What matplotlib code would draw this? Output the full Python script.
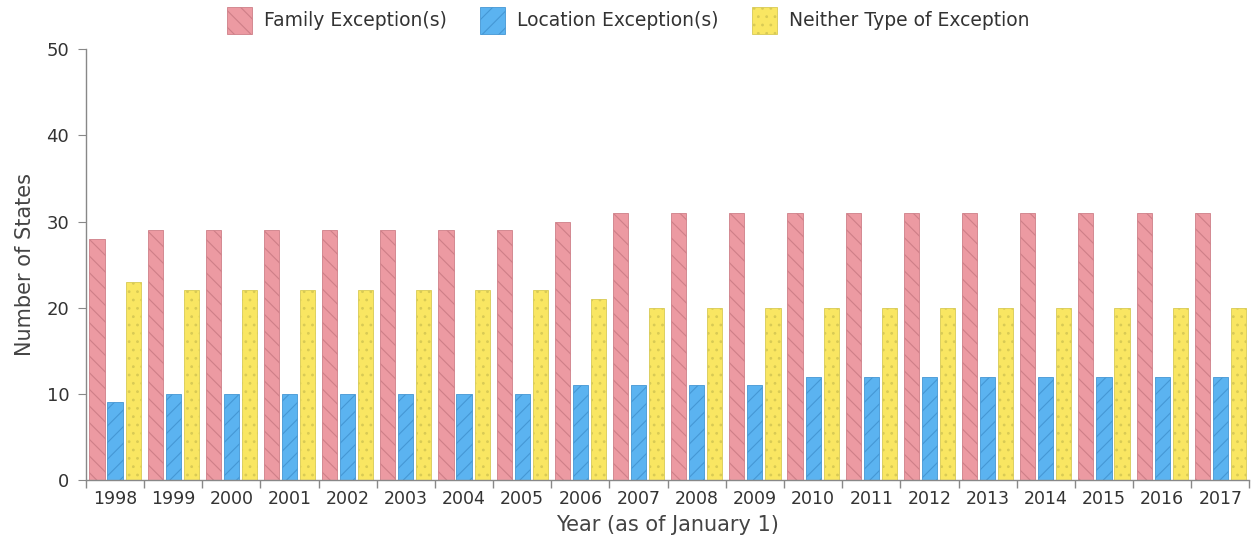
import matplotlib
matplotlib.use("Agg")
import matplotlib.pyplot as plt
import numpy as np

years = [str(y) for y in range(1998, 2018)]
family = [28, 29, 29, 29, 29, 29, 29, 29, 30, 31, 31, 31, 31, 31, 31, 31, 31, 31, 31, 31]
location = [9, 10, 10, 10, 10, 10, 10, 10, 11, 11, 11, 11, 12, 12, 12, 12, 12, 12, 12, 12]
neither = [23, 22, 22, 22, 22, 22, 22, 22, 21, 20, 20, 20, 20, 20, 20, 20, 20, 20, 20, 20]
series_names = ["Family Exception(s)", "Location Exception(s)", "Neither Type of Exception"]

plt.rcParams['font.family'] = ['DejaVu Sans']
plt.rcParams['hatch.linewidth'] = 0.8

fig = plt.figure(figsize=(12.51, 5.46), dpi=100)
ax = fig.add_axes([0.0687, 0.1209, 0.930, 0.789])

x = np.arange(len(years))
w = 0.26
off = 0.31
styles = [
    dict(color="#EC9AA2", hatch="\\\\", ec="#CE7F88"),
    dict(color="#5BB3F0", hatch="//", ec="#4597D4"),
    dict(color="#F9E662", hatch="..", ec="#D8CA55"),
]
bars = []
for i, (vals, st, name) in enumerate(zip([family, location, neither], styles, series_names)):
    b = ax.bar(x + (i - 1) * off, vals, width=w, color=st["color"], hatch=st["hatch"],
               edgecolor=st["ec"], linewidth=0.6, label=name, zorder=2)
    bars.append(b)

ax.set_xlim(-0.5, len(years) - 0.5)
ax.set_ylim(0, 50)
ax.set_yticks(range(0, 51, 10))
ax.set_xticks(x)
ax.set_xticklabels(years)
ax.set_xticks(np.arange(-0.5, len(years), 1.0), minor=True)
ax.tick_params(axis='x', which='major', length=0, labelsize=12.5, colors="#333333", pad=7)
ax.tick_params(axis='x', which='minor', length=6, color="#888888", width=1)
ax.tick_params(axis='y', length=6, color="#888888", labelsize=13, colors="#333333", pad=6)
for s in ["top", "right"]:
    ax.spines[s].set_visible(False)
for s in ["left", "bottom"]:
    ax.spines[s].set_color("#888888")
    ax.spines[s].set_linewidth(1)

ax.set_ylabel("Number of States", fontsize=15, color="#444444", labelpad=8)
ax.set_xlabel("Year (as of January 1)", fontsize=15, color="#444444", labelpad=5)

leg = fig.legend(handles=bars, labels=series_names, loc="upper center",
                 bbox_to_anchor=(0.502, 1.018), ncol=3, frameon=False, fontsize=13.5,
                 handlelength=1.35, handleheight=1.8, columnspacing=1.8, handletextpad=0.6)
for t in leg.get_texts():
    t.set_color("#333333")

fig.savefig("out.png", dpi=100)
